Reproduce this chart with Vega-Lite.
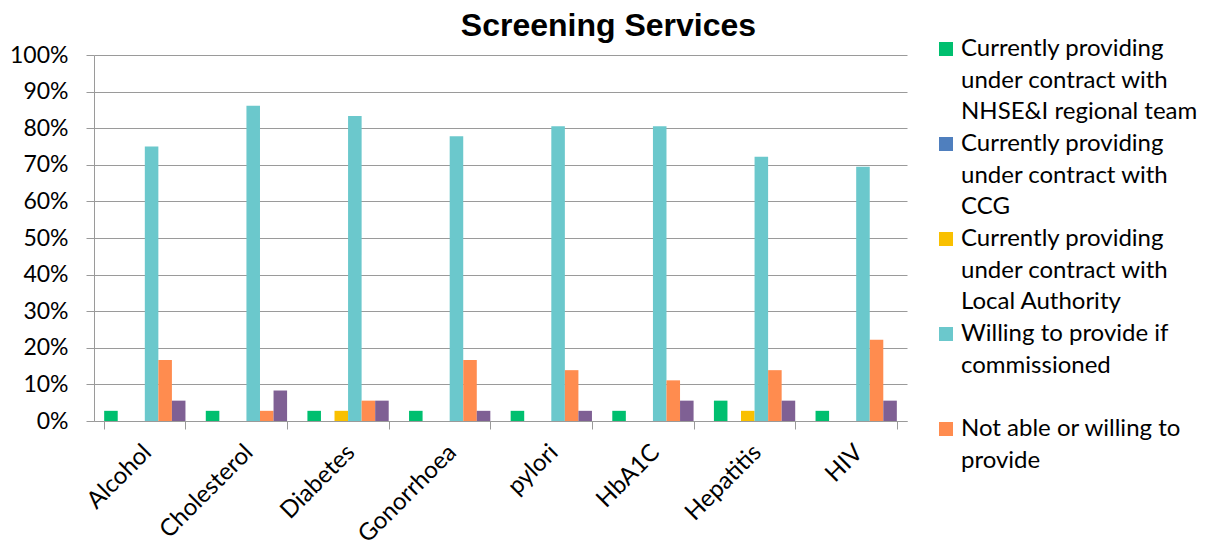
{
  "$schema": "https://vega.github.io/schema/vega-lite/v6.json",
  "autosize": "none",
  "padding": {"left": 94, "top": 55, "right": 304, "bottom": 124},
  "width": 813,
  "height": 366,
  "background": "white",
  "title": {"text": "Screening Services", "font": "Liberation Sans", "fontSize": 32, "fontWeight": "bold", "color": "#000000", "anchor": "middle", "dx": 108, "offset": -6},
  "config": {"view": {"stroke": null}},
  "data": {"values": [
    {"service": "Alcohol", "series": "Currently providing under contract with NHSE&I regional team", "value": 0.0278},
    {"service": "Alcohol", "series": "Currently providing under contract with CCG", "value": 0},
    {"service": "Alcohol", "series": "Currently providing under contract with Local Authority", "value": 0},
    {"service": "Alcohol", "series": "Willing to provide if commissioned", "value": 0.75},
    {"service": "Alcohol", "series": "Not able or willing to provide", "value": 0.1667},
    {"service": "Alcohol", "series": "Don't know", "value": 0.0556},
    {"service": "Cholesterol", "series": "Currently providing under contract with NHSE&I regional team", "value": 0.0278},
    {"service": "Cholesterol", "series": "Currently providing under contract with CCG", "value": 0},
    {"service": "Cholesterol", "series": "Currently providing under contract with Local Authority", "value": 0},
    {"service": "Cholesterol", "series": "Willing to provide if commissioned", "value": 0.8611},
    {"service": "Cholesterol", "series": "Not able or willing to provide", "value": 0.0278},
    {"service": "Cholesterol", "series": "Don't know", "value": 0.0833},
    {"service": "Diabetes", "series": "Currently providing under contract with NHSE&I regional team", "value": 0.0278},
    {"service": "Diabetes", "series": "Currently providing under contract with CCG", "value": 0},
    {"service": "Diabetes", "series": "Currently providing under contract with Local Authority", "value": 0.0278},
    {"service": "Diabetes", "series": "Willing to provide if commissioned", "value": 0.8333},
    {"service": "Diabetes", "series": "Not able or willing to provide", "value": 0.0556},
    {"service": "Diabetes", "series": "Don't know", "value": 0.0556},
    {"service": "Gonorrhoea", "series": "Currently providing under contract with NHSE&I regional team", "value": 0.0278},
    {"service": "Gonorrhoea", "series": "Currently providing under contract with CCG", "value": 0},
    {"service": "Gonorrhoea", "series": "Currently providing under contract with Local Authority", "value": 0},
    {"service": "Gonorrhoea", "series": "Willing to provide if commissioned", "value": 0.7778},
    {"service": "Gonorrhoea", "series": "Not able or willing to provide", "value": 0.1667},
    {"service": "Gonorrhoea", "series": "Don't know", "value": 0.0278},
    {"service": "pylori", "series": "Currently providing under contract with NHSE&I regional team", "value": 0.0278},
    {"service": "pylori", "series": "Currently providing under contract with CCG", "value": 0},
    {"service": "pylori", "series": "Currently providing under contract with Local Authority", "value": 0},
    {"service": "pylori", "series": "Willing to provide if commissioned", "value": 0.8056},
    {"service": "pylori", "series": "Not able or willing to provide", "value": 0.1389},
    {"service": "pylori", "series": "Don't know", "value": 0.0278},
    {"service": "HbA1C", "series": "Currently providing under contract with NHSE&I regional team", "value": 0.0278},
    {"service": "HbA1C", "series": "Currently providing under contract with CCG", "value": 0},
    {"service": "HbA1C", "series": "Currently providing under contract with Local Authority", "value": 0},
    {"service": "HbA1C", "series": "Willing to provide if commissioned", "value": 0.8056},
    {"service": "HbA1C", "series": "Not able or willing to provide", "value": 0.1111},
    {"service": "HbA1C", "series": "Don't know", "value": 0.0556},
    {"service": "Hepatitis", "series": "Currently providing under contract with NHSE&I regional team", "value": 0.0556},
    {"service": "Hepatitis", "series": "Currently providing under contract with CCG", "value": 0},
    {"service": "Hepatitis", "series": "Currently providing under contract with Local Authority", "value": 0.0278},
    {"service": "Hepatitis", "series": "Willing to provide if commissioned", "value": 0.7222},
    {"service": "Hepatitis", "series": "Not able or willing to provide", "value": 0.1389},
    {"service": "Hepatitis", "series": "Don't know", "value": 0.0556},
    {"service": "HIV", "series": "Currently providing under contract with NHSE&I regional team", "value": 0.0278},
    {"service": "HIV", "series": "Currently providing under contract with CCG", "value": 0},
    {"service": "HIV", "series": "Currently providing under contract with Local Authority", "value": 0},
    {"service": "HIV", "series": "Willing to provide if commissioned", "value": 0.6944},
    {"service": "HIV", "series": "Not able or willing to provide", "value": 0.2222},
    {"service": "HIV", "series": "Don't know", "value": 0.0556}
  ]},
  "mark": {"type": "bar", "strokeWidth": 0},
  "encoding": {
    "x": {
      "field": "service", "type": "nominal", "sort": null,
      "scale": {"paddingInner": 0.2, "paddingOuter": 0.1},
      "axis": {
        "title": null, "labelAngle": -45, "labelFont": "Lato", "labelFontSize": 24, "labelColor": "#000000",
        "tickBand": "extent", "ticks": true, "tickSize": 8, "tickColor": "#9a9a9a", "domainColor": "#9a9a9a", "labelPadding": 11, "labelOffset": -6, "grid": false
      }
    },
    "xOffset": {"field": "series", "type": "nominal", "sort": null},
    "y": {
      "field": "value", "type": "quantitative",
      "scale": {"domain": [0, 1], "nice": false},
      "axis": {
        "title": null, "format": ".0%", "values": [0, 0.1, 0.2, 0.3, 0.4, 0.5, 0.6, 0.7, 0.8, 0.9, 1],
        "labelFont": "Lato", "labelFontSize": 23, "labelColor": "#000000",
        "tickSize": 8, "tickColor": "#9a9a9a", "domainColor": "#9a9a9a", "gridColor": "#9a9a9a", "grid": true, "labelPadding": 18
      }
    },
    "color": {
      "field": "series", "type": "nominal", "sort": null,
      "scale": {
        "domain": ["Currently providing under contract with NHSE&I regional team", "Currently providing under contract with CCG", "Currently providing under contract with Local Authority", "Willing to provide if commissioned", "Not able or willing to provide", "Don't know"],
        "range": ["#00bf6f", "#4f7fbe", "#f9c000", "#6bc8cc", "#ff8c4f", "#7f6094"]
      },
      "legend": {
        "title": null, "orient": "none", "legendX": 840, "legendY": -18,
        "values": ["Currently providing under contract with NHSE&I regional team", "Currently providing under contract with CCG", "Currently providing under contract with Local Authority", "Willing to provide if commissioned", "Not able or willing to provide"],
        "symbolType": "square", "symbolSize": 196, "symbolStrokeWidth": 0, "symbolOpacity": 1,
        "labelFont": "Lato", "labelFontSize": 24, "labelColor": "#000000", "labelLimit": 400, "labelBaseline": "top", "labelOffset": 3,
        "rowPadding": 8,
        "encode": {"labels": {"update": {"lineHeight": {"value": 31.5}, "dy": {"value": -12}}}},
        "labelExpr": "datum.label == 'Currently providing under contract with NHSE&I regional team' ? ['Currently providing', 'under contract with', 'NHSE&I regional team'] : datum.label == 'Currently providing under contract with CCG' ? ['Currently providing', 'under contract with', 'CCG'] : datum.label == 'Currently providing under contract with Local Authority' ? ['Currently providing', 'under contract with', 'Local Authority'] : datum.label == 'Willing to provide if commissioned' ? ['Willing to provide if', 'commissioned', ' '] : ['Not able or willing to', 'provide']"
      }
    }
  }
}
